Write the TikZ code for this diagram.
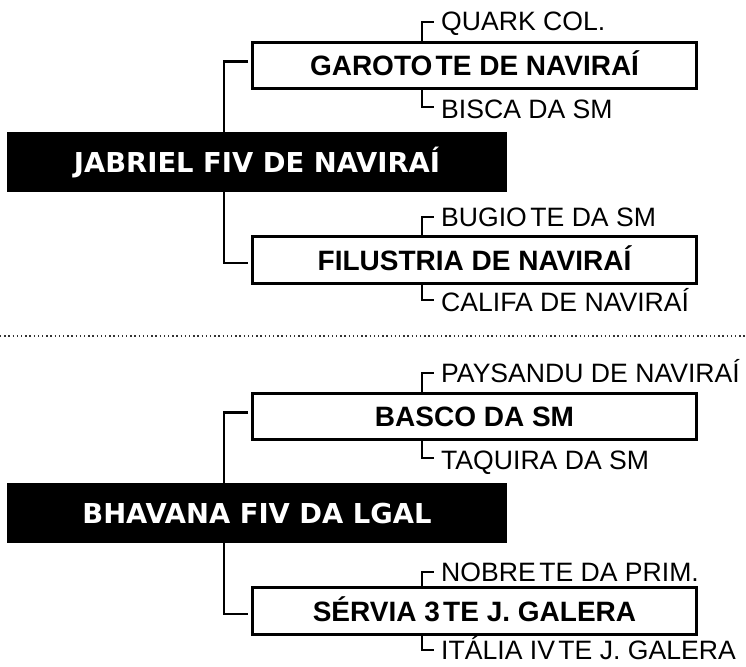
\documentclass[tikz,border=0pt]{standalone}
\usepackage{fontspec}
\setmainfont{Liberation Sans}
\newfontfamily\dejavu{DejaVu Sans}
\begin{document}
\begin{tikzpicture}[x=1pt,y=-1pt,
  conn/.style={line width=2.6pt},
  kid/.style={draw, line width=2.6pt, minimum width=444pt, minimum height=46.5pt,
    inner sep=0pt, text height=20pt, text depth=0pt,
    font=\fontsize{28}{30}\selectfont\bfseries},
  root/.style={fill=black, text=white, minimum width=500pt, minimum height=60pt,
    inner sep=0pt, text height=20pt, text depth=0pt,
    font=\dejavu\fontsize{27.4}{30}\selectfont\bfseries},
  lab/.style={inner sep=0pt, anchor=base west, font=\fontsize{26.6}{28}\selectfont},
  sep/.style={line width=1.3pt, dash pattern=on 1.3pt off 2.9pt, black!80}]
\useasboundingbox (0,0) rectangle (746,666);

% ---------- group 1 ----------
\node[kid] (g1) at (474.5,65.5) {GAROTO\hspace{0.12em}TE DE NAVIRAÍ};
\node[kid] (f1) at (474.5,260) {FILUSTRIA DE NAVIRAÍ};
\node[lab] (g1a) at (441,31) {QUARK COL.};
\node[lab] (g1b) at (441,118) {BISCA DA SM};
\node[lab] (f1a) at (441,226) {BUGIO\hspace{0.13em}TE DA SM};
\node[lab] (f1b) at (441,311) {CALIFA DE NAVIRAÍ};

\draw[conn] ([xshift=-3pt,yshift=4pt]g1.west) -| (224,162) |- ([xshift=-3pt,yshift=-3pt]f1.west);
\node[root] (r1) at (257,162) {JABRIEL FIV DE NAVIRAÍ};

\coordinate (g1ac) at ([xshift=-7pt,yshift=9pt]g1a.base west);
\coordinate (g1av) at ([xshift=-12pt]g1ac);
\draw[conn] (g1av |- g1.north) |- (g1ac);
\coordinate (g1bc) at ([xshift=-7pt,yshift=11pt]g1b.base west);
\coordinate (g1bv) at ([xshift=-12pt]g1bc);
\draw[conn] (g1bv |- g1.south) |- (g1bc);
\coordinate (f1ac) at ([xshift=-7pt,yshift=9pt]f1a.base west);
\coordinate (f1av) at ([xshift=-12pt]f1ac);
\draw[conn] (f1av |- f1.north) |- (f1ac);
\coordinate (f1bc) at ([xshift=-7pt,yshift=11pt]f1b.base west);
\coordinate (f1bv) at ([xshift=-12pt]f1bc);
\draw[conn] (f1bv |- f1.south) |- (f1bc);

% ---------- separator ----------
\coordinate (sL) at (0,336);
\coordinate (sR) at (746,336);
\draw[sep] (sL) -- (sR);

% ---------- group 2 ----------
\node[kid] (g2) at (474.5,416.5) {BASCO DA SM};
\node[kid] (f2) at (474.5,611) {SÉRVIA 3\hspace{0.12em}TE J. GALERA};
\node[lab] (g2a) at (441,382) {PAYSANDU DE NAVIRAÍ};
\node[lab] (g2b) at (441,469) {TAQUIRA DA SM};
\node[lab] (f2a) at (441,581) {NOBRE\hspace{0.13em}TE DA PRIM.};
\node[lab] (f2b) at (441,659) {ITÁLIA IV\hspace{0.13em}TE J. GALERA};

\draw[conn] ([xshift=-3pt,yshift=4pt]g2.west) -| (224,513) |- ([xshift=-3pt,yshift=-3pt]f2.west);
\node[root] (r2) at (257,513) {BHAVANA FIV DA LGAL};

\coordinate (g2ac) at ([xshift=-7pt,yshift=9pt]g2a.base west);
\coordinate (g2av) at ([xshift=-12pt]g2ac);
\draw[conn] (g2av |- g2.north) |- (g2ac);
\coordinate (g2bc) at ([xshift=-7pt,yshift=11pt]g2b.base west);
\coordinate (g2bv) at ([xshift=-12pt]g2bc);
\draw[conn] (g2bv |- g2.south) |- (g2bc);
\coordinate (f2ac) at ([xshift=-7pt,yshift=9pt]f2a.base west);
\coordinate (f2av) at ([xshift=-12pt]f2ac);
\draw[conn] (f2av |- f2.north) |- (f2ac);
\coordinate (f2bc) at ([xshift=-7pt,yshift=9pt]f2b.base west);
\coordinate (f2bv) at ([xshift=-12pt]f2bc);
\draw[conn] (f2bv |- f2.south) |- (f2bc);
\end{tikzpicture}
\end{document}
